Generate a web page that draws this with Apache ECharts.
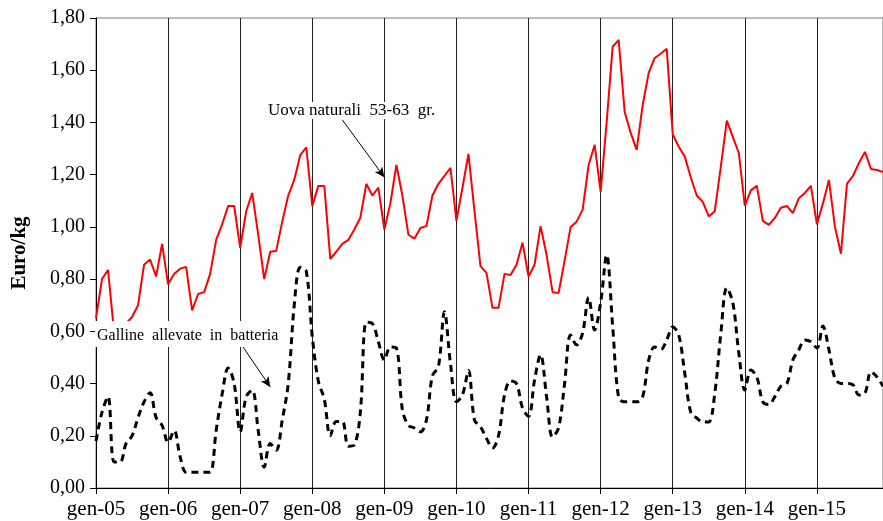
<!DOCTYPE html>
<html>
<head>
<meta charset="utf-8">
<script src="https://cdn.jsdelivr.net/npm/echarts@6/dist/echarts.min.js"></script>
<style>
  html, body { margin: 0; padding: 0; background: #fff; }
  #main { width: 883px; height: 521px; }
</style>
</head>
<body>
<div id="main"></div>
<script>
// mesi e anni per le categorie (gen-05 ... dic-15)
const mesi = ['gen', 'feb', 'mar', 'apr', 'mag', 'giu', 'lug', 'ago', 'set', 'ott', 'nov', 'dic'];
const anni = ['05', '06', '07', '08', '09', '10', '11', '12', '13', '14', '15'];

// Uova naturali 53-63 gr. (Euro/kg)
const uovaNaturali = [
  0.65, 0.80, 0.835, 0.60, 0.60, 0.63, 0.655, 0.70, 0.855, 0.875, 0.81, 0.935,
  0.78, 0.82, 0.84, 0.847, 0.68, 0.743, 0.75, 0.82, 0.95, 1.01, 1.08, 1.08,
  0.92, 1.06, 1.13, 0.97, 0.80, 0.905, 0.908, 1.02, 1.12, 1.18, 1.275, 1.305,
  1.08, 1.157, 1.157, 0.877, 0.905, 0.935, 0.95, 0.99, 1.035, 1.165, 1.12, 1.15,
  0.99, 1.09, 1.237, 1.12, 0.97, 0.955, 0.996, 1.003, 1.12, 1.165, 1.195, 1.226,
  1.023, 1.15, 1.28, 1.06, 0.85, 0.824, 0.69, 0.69, 0.82, 0.816, 0.855, 0.94,
  0.81, 0.855, 1.003, 0.893, 0.75, 0.747, 0.87, 1.00, 1.02, 1.065, 1.237, 1.314,
  1.134, 1.40, 1.69, 1.716, 1.44, 1.36, 1.295, 1.467, 1.59, 1.647, 1.663, 1.682,
  1.355, 1.307, 1.27, 1.19, 1.12, 1.096, 1.04, 1.06, 1.23, 1.407, 1.345, 1.283,
  1.08, 1.14, 1.157, 1.023, 1.008, 1.034, 1.073, 1.08, 1.053, 1.11, 1.13, 1.157,
  1.01, 1.09, 1.18, 1.00, 0.897, 1.165, 1.195, 1.245, 1.287, 1.222, 1.218, 1.21
];

// Galline allevate in batteria (Euro/kg)
const gallineBatteria = [
  0.18, 0.29, 0.35, 0.10, 0.10, 0.17, 0.20, 0.27, 0.33, 0.365, 0.27, 0.24,
  0.175, 0.22, 0.12, 0.06, 0.06, 0.06, 0.06, 0.06, 0.22, 0.36, 0.46, 0.40,
  0.215, 0.35, 0.375, 0.22, 0.08, 0.17, 0.145, 0.26, 0.40, 0.70, 0.845, 0.83,
  0.58, 0.41, 0.34, 0.20, 0.255, 0.255, 0.16, 0.165, 0.29, 0.635, 0.63, 0.56,
  0.49, 0.54, 0.536, 0.30, 0.24, 0.23, 0.215, 0.26, 0.43, 0.465, 0.675, 0.477,
  0.33, 0.356, 0.45, 0.26, 0.235, 0.19, 0.153, 0.20, 0.356, 0.41, 0.40, 0.306,
  0.275, 0.414, 0.51, 0.35, 0.195, 0.23, 0.40, 0.586, 0.548, 0.594, 0.73, 0.605,
  0.71, 0.893, 0.62, 0.345, 0.33, 0.33, 0.33, 0.35, 0.49, 0.54, 0.53, 0.567,
  0.617, 0.586, 0.44, 0.29, 0.268, 0.253, 0.253, 0.363, 0.59, 0.766, 0.71, 0.517,
  0.375, 0.452, 0.425, 0.33, 0.32, 0.35, 0.39, 0.40, 0.49, 0.53, 0.567, 0.56,
  0.536, 0.62, 0.53, 0.42, 0.40, 0.40, 0.395, 0.356, 0.363, 0.445, 0.425, 0.39
];

// frecce delle etichette: [indice mese, valore] inizio -> fine
const frecciaUova = [[41, 1.41], [48, 1.19]];
const frecciaGalline = [[24, 0.556], [29, 0.387]];

const categorie = [];
anni.forEach(a => mesi.forEach(m => categorie.push(m + '-' + a)));

const serif = '"Liberation Serif", "Times New Roman", serif';

var myChart = echarts.init(document.getElementById('main'));

function freccia(f) {
  return {
    silent: true,
    symbol: ['none', 'arrow'],
    symbolSize: [7, 10],
    label: { show: false },
    lineStyle: { color: '#000', width: 1, type: 'solid' },
    data: [[
      { coord: [categorie[f[0][0]], f[0][1]] },
      { coord: [categorie[f[1][0]], f[1][1]] }
    ]]
  };
}

const option = {
  backgroundColor: '#fff',
  animation: false,
  grid: {
    left: 96,
    right: -2,
    top: 18,
    bottom: 33,
    show: true,
    borderColor: '#7a7a7a',
    borderWidth: 1
  },
  xAxis: {
    type: 'category',
    data: categorie,
    boundaryGap: false,
    axisLine: { lineStyle: { color: '#000', width: 1 } },
    axisTick: { interval: 11, length: 6, lineStyle: { color: '#000' } },
    axisLabel: {
      interval: 11,
      margin: 11,
      color: '#000',
      fontFamily: serif,
      fontSize: 21
    },
    splitLine: {
      show: true,
      interval: 11,
      lineStyle: { color: '#222', width: 1 }
    }
  },
  yAxis: {
    type: 'value',
    min: 0,
    max: 1.8,
    interval: 0.2,
    name: 'Euro/kg',
    nameLocation: 'middle',
    nameGap: 66,
    nameRotate: 90,
    nameTextStyle: {
      color: '#000',
      fontFamily: serif,
      fontWeight: 'bold',
      fontSize: 21
    },
    axisLine: { show: true, lineStyle: { color: '#000', width: 1 } },
    axisTick: { show: true, length: 6, lineStyle: { color: '#000' } },
    axisLabel: {
      margin: 11,
      color: '#000',
      fontFamily: serif,
      fontSize: 20,
      formatter: v => v.toFixed(2).replace('.', ',')
    },
    splitLine: { show: false }
  },
  series: [
    {
      name: 'Uova naturali 53-63 gr.',
      type: 'line',
      data: uovaNaturali,
      symbol: 'none',
      lineStyle: { color: '#ff0000', width: 2 },
      markLine: freccia(frecciaUova)
    },
    {
      name: 'Galline allevate in batteria',
      type: 'line',
      data: gallineBatteria,
      symbol: 'none',
      smooth: 0.35,
      lineStyle: { color: '#000', width: 3, type: [7, 5] },
      markLine: freccia(frecciaGalline)
    }
  ],
  graphic: [
    {
      type: 'text',
      z: 100,
      left: 268,
      top: 102,
      style: {
        text: 'Uova naturali  53-63  gr.',
        fontFamily: serif,
        fontSize: 17,
        fill: '#000',
        backgroundColor: '#fff'
      }
    },
    {
      type: 'text',
      z: 100,
      left: 95,
      top: 321,
      style: {
        text: 'Galline  allevate  in  batteria',
        fontFamily: serif,
        fontSize: 16,
        fill: '#000',
        backgroundColor: '#fff',
        padding: [7, 2, 3, 2]
      }
    }
  ]
};

myChart.setOption(option);

window.addEventListener('resize', function () {
  myChart.resize();
});
</script>
</body>
</html>
